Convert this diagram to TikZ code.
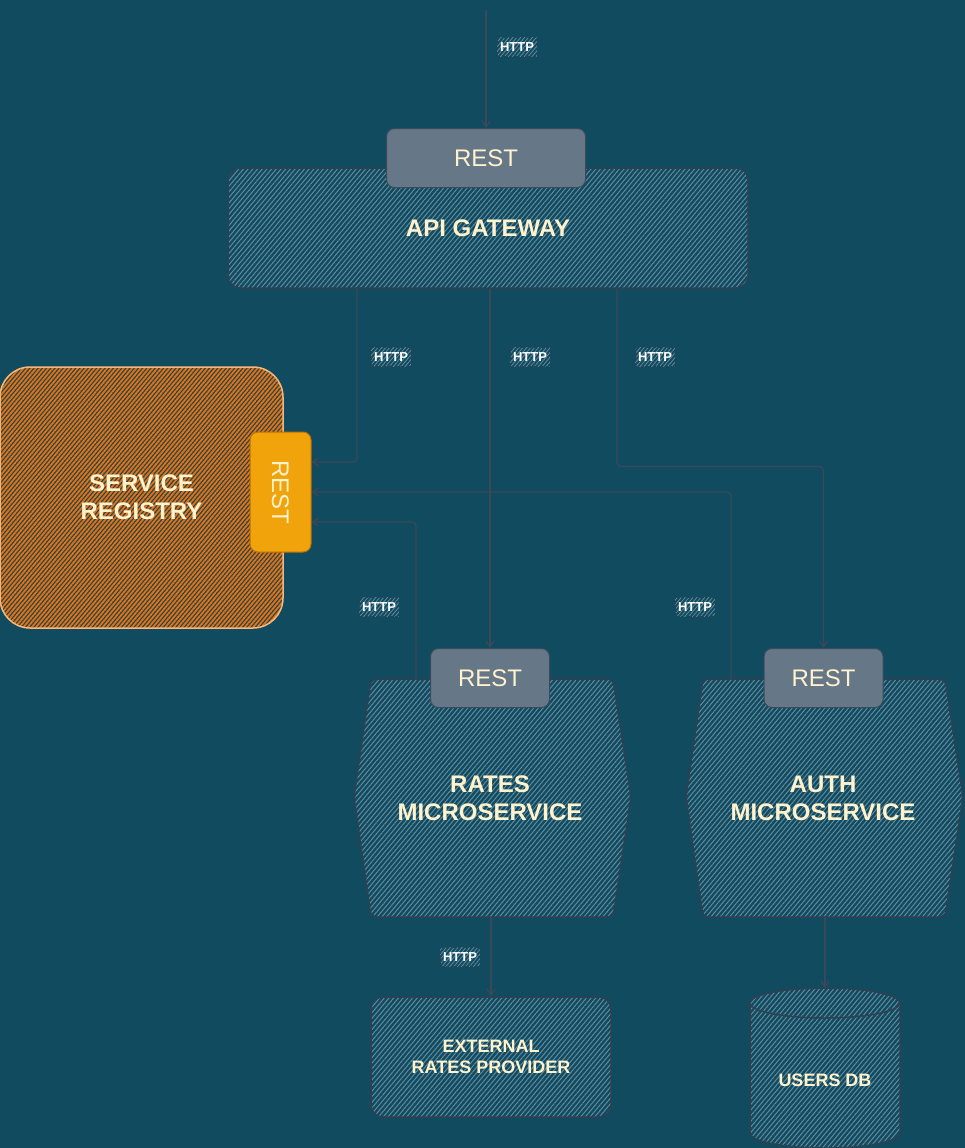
\documentclass[tikz,border=0pt]{standalone}
\usepackage{fontspec}
\setmainfont{Liberation Sans}
\usepackage{tikz}
\usetikzlibrary{patterns.meta}
\usetikzlibrary{arrows.meta}

\definecolor{bgblue}{HTML}{114B5F}
\definecolor{hatchblue}{HTML}{628A9E}
\definecolor{edgegray}{HTML}{2F4052}
\definecolor{restgray}{HTML}{667788}
\definecolor{reststroke}{HTML}{3A4B5D}
\definecolor{cream}{HTML}{FFF2CC}
\definecolor{linkgray}{HTML}{3B4859}
\definecolor{regorange}{HTML}{F0700A}
\definecolor{regstroke}{HTML}{F7B77A}
\definecolor{restorange}{HTML}{F0A30A}
\definecolor{restorangedark}{HTML}{BD7000}

\begin{document}
\begin{tikzpicture}[x=1pt, y=-1pt,
  hatched/.style={draw=edgegray, line width=1.5pt, pattern={Lines[angle=50,distance=3.6pt,line width=1pt]}, pattern color=hatchblue},
  regfill/.style={draw=regstroke, line width=1.5pt, pattern={Lines[angle=50,distance=3.2pt,line width=1.8pt]}, pattern color=regorange},
  restbox/.style={fill=restgray, draw=reststroke, line width=1pt, rounded corners=8pt, text=cream, font=\fontsize{24}{28}\selectfont, minimum height=59pt},
  bigtext/.style={text=cream, align=center, font=\bfseries\fontsize{24}{28}\selectfont},
  smalltext/.style={text=cream, align=center, font=\bfseries\fontsize{18}{21}\selectfont},
  httptag/.style={draw=edgegray, dashed, line width=0.8pt, pattern={Lines[angle=50,distance=3pt,line width=0.8pt]}, pattern color=hatchblue, text=white, font=\bfseries\fontsize{13}{15}\selectfont, inner xsep=3pt, minimum height=19pt},
  conn/.style={draw=linkgray, line width=1.2pt, rounded corners=4pt, -{Straight Barb[length=6pt,width=8pt]}}
]
\useasboundingbox (0,0) rectangle (965,1148);
\fill[bgblue] (0,0) rectangle (965,1148);

% gateway
\draw node[hatched, rounded corners=12pt, minimum width=520pt, minimum height=120pt, bigtext] (gw) at (488,228) {API GATEWAY};
\draw node[restbox, minimum width=199pt] (gwrest) at (486,158) {REST};

% service registry
\draw node[regfill, rounded corners=30pt, minimum width=283pt, minimum height=261pt, bigtext] (reg) at (141.5,497.5) {SERVICE\\REGISTRY};
\draw node[fill=restorange, draw=restorangedark, line width=1pt, rounded corners=8pt, minimum width=61pt, minimum height=120pt, text=cream, font=\fontsize{24}{28}\selectfont] (regrest) at (280.5,492) {\rotatebox{-90}{REST}};

% microservices
\draw[hatched, rounded corners=6pt] (371,679) -- (613,679) -- (631,797) -- (613,917) -- (371,917) -- (354,797) -- cycle;
\draw node[bigtext, minimum width=277pt, minimum height=238pt] (rates) at (490,798) {RATES\\MICROSERVICE};
\draw node[restbox, minimum width=119pt] (ratesrest) at (490,678) {REST};

\draw[hatched, rounded corners=6pt] (703,679) -- (945,679) -- (963,797) -- (945,917) -- (703,917) -- (686,797) -- cycle;
\draw node[bigtext, minimum width=277pt, minimum height=238pt] (auth) at (823,798) {AUTH\\MICROSERVICE};
\draw node[restbox, minimum width=119pt] (authrest) at (823.5,678) {REST};

% provider and db
\draw node[hatched, rounded corners=12pt, minimum width=240pt, minimum height=120pt, smalltext] (ext) at (491,1057) {EXTERNAL\\RATES PROVIDER};
\draw[hatched] (750,1003) -- (750,1133) arc[start angle=180, end angle=0, x radius=75, y radius=15] -- (900,1003) arc[start angle=0, end angle=-180, x radius=75, y radius=15] -- cycle;
\draw[edgegray, line width=1.5pt] (750,1003) arc[start angle=180, end angle=0, x radius=75, y radius=15];
\draw node[smalltext, minimum width=150pt, minimum height=184pt] (db) at (825,1080) {USERS DB};

% connectors
\coordinate (client) at (486,10);
\draw[conn] (client) -- (gwrest.north);
\draw[conn] ([xshift=-131pt]gw.south) |- ([yshift=30pt]regrest.east);
\draw[conn] (gw.south -| ratesrest.north) -- (ratesrest.north);
\draw[conn] ([xshift=129pt]gw.south) -- ([xshift=129pt,yshift=-178pt]gw.south) -| (authrest.north);
\draw[conn] ([xshift=-92pt]auth.north) |- (regrest.east);
\draw[conn] ([xshift=-74pt]rates.north) |- ([yshift=-30pt]regrest.east);
\draw[conn] (rates.south -| ext.north) -- (ext.north);
\draw[conn] (auth.south -| db.north) -- (db.north);

% labels
\draw node[httptag] (tagin) at (517,47) {HTTP};
\draw node[httptag] (tagreg) at (391,357) {HTTP};
\draw node[httptag] (tagrates) at (530,357) {HTTP};
\draw node[httptag] (tagauth) at (655,357) {HTTP};
\draw node[httptag] (tagratesreg) at (379,607) {HTTP};
\draw node[httptag] (tagauthreg) at (695,607) {HTTP};
\draw node[httptag] (tagext) at (460,957) {HTTP};
\end{tikzpicture}
\end{document}
